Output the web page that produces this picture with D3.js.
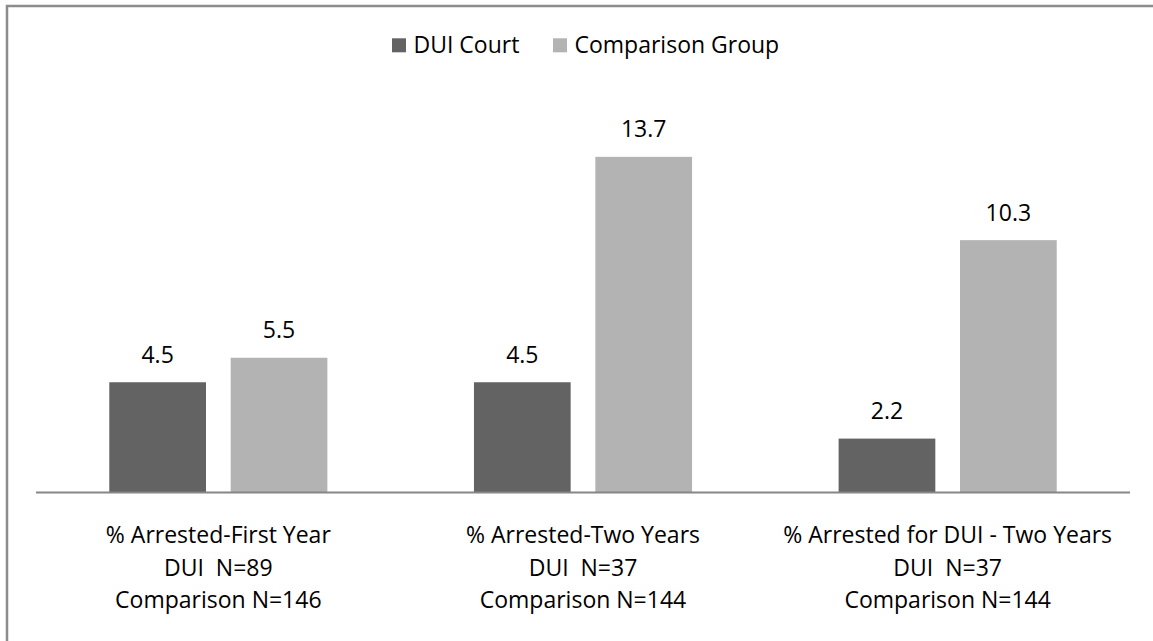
<!DOCTYPE html>
<html>
<head>
<meta charset="utf-8">
<script src="https://cdn.jsdelivr.net/npm/d3@7"></script>
<style>
  body { margin: 0; background: #fff; }
  text { font-family: "Open Sans", sans-serif; fill: #000; }
</style>
</head>
<body>
<svg id="chart" width="1153" height="641"></svg>
<script>
// data
const categories = ["% Arrested-First Year", "% Arrested-Two Years", "% Arrested for DUI - Two Years"];
const subLines = [
  ["DUI  N=89", "Comparison N=146"],
  ["DUI  N=37", "Comparison N=144"],
  ["DUI  N=37", "Comparison N=144"]
];
const seriesNames = ["DUI Court", "Comparison Group"];
const duiCourt = [4.5, 4.5, 2.2];
const comparison = [5.5, 13.7, 10.3];
const seriesColors = ["#636363", "#b3b3b3"];

const svg = d3.select("#chart");
const fontSize = 23;

// outer border (right/bottom run off the picture)
svg.append("rect").attr("x", 7).attr("y", 6).attr("width", 1160).attr("height", 650)
  .attr("fill", "none").attr("stroke", "#8c8c8c").attr("stroke-width", 2.5);

// scales
const baseY = 492.5;
const x0 = d3.scaleBand().domain(categories).range([36, 1130]).paddingInner(0).paddingOuter(0);
const y = d3.scaleLinear().domain([0, 14]).range([baseY, baseY - 14 * 24.5]);

const barW = 96.7, barGap = 24.7;

const rows = categories.map((c, i) => ({ cat: c, vals: [duiCourt[i], comparison[i]] }));

const g = svg.append("g");
rows.forEach((r, i) => {
  const cx = x0(r.cat) + x0.bandwidth() / 2;
  r.vals.forEach((v, s) => {
    const bx = s === 0 ? cx - barGap / 2 - barW : cx + barGap / 2;
    g.append("rect").attr("x", bx).attr("y", y(v)).attr("width", barW)
      .attr("height", baseY - y(v)).attr("fill", seriesColors[s]);
    g.append("text").attr("x", bx + barW / 2).attr("y", y(v) - 19.5)
      .attr("text-anchor", "middle").attr("font-size", fontSize).text(v.toFixed(1));
  });
});

// axis line
svg.append("line").attr("x1", 36).attr("x2", 1130).attr("y1", baseY).attr("y2", baseY)
  .attr("stroke", "#868686").attr("stroke-width", 2);

// category labels
rows.forEach((r, i) => {
  const cx = x0(r.cat) + x0.bandwidth() / 2;
  const lines = [r.cat].concat(subLines[i]);
  lines.forEach((t, k) => {
    svg.append("text").attr("x", cx).attr("y", 542.7 + k * 32.8)
      .attr("text-anchor", "middle").attr("font-size", fontSize)
      .attr("xml:space", "preserve").style("white-space", "pre").text(t);
  });
});

// legend
const legendX = [392, 553];
seriesNames.forEach((n, s) => {
  svg.append("rect").attr("x", legendX[s]).attr("y", 38.3).attr("width", 14).attr("height", 14)
    .attr("fill", seriesColors[s]);
  svg.append("text").attr("x", legendX[s] + 21.5).attr("y", 52.7)
    .attr("font-size", fontSize).text(n);
});
</script>
</body>
</html>
